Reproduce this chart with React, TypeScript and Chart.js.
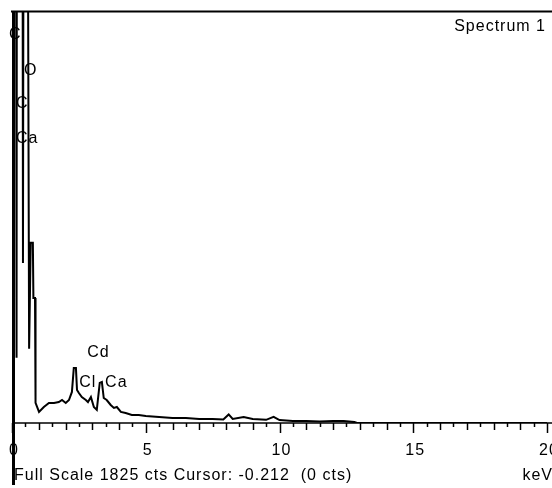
import React, { useEffect, useRef } from "react";
import { Chart, registerables } from "chart.js";

Chart.register(...registerables);

// Spectrum data (energy in keV, counts)
const energyKeV = [
  0.0, 0.02, 0.14, 0.17, 0.19, 0.38, 0.41, 0.45, 0.55, 0.64, 0.7, 0.78, 0.8, 0.86, 0.88,
  1.01, 1.19, 1.38, 1.57, 1.75, 1.87, 2.01, 2.13, 2.24, 2.31, 2.39, 2.43, 2.5, 2.61, 2.76,
  2.84, 2.95, 3.06, 3.17, 3.28, 3.36, 3.43, 3.54, 3.69, 3.81, 3.92, 4.07, 4.25, 4.48, 4.74,
  5.0, 5.5, 6.0, 6.5, 7.0, 7.5, 7.9, 8.1, 8.25, 8.66, 9.0, 9.5, 9.78, 10.0, 10.5, 11.0,
  11.5, 12.0, 12.4, 12.8, 12.9, 20.0,
];
const counts = [
  0, 4000, 4000, 290, 4000, 4000, 710, 4000, 4000, 330, 800, 800, 555, 555, 90,
  49, 71, 89, 89, 93, 102, 89, 102, 138, 244, 244, 147, 133, 115, 102,
  93, 115, 71, 58, 178, 182, 111, 102, 80, 67, 71, 49, 44, 36, 36,
  31, 27, 22, 22, 18, 18, 16, 38, 18, 27, 18, 14, 27, 13, 9, 9,
  7, 9, 9, 4, 0, 0,
];

const fullScale = 1825;
const xMin = 0;
const xMax = 20;
const tickValues = [0, 5, 10, 15, 20];
const tickLabels = ["0", "5", "10", "15", "20"];

// Element labels and their anchors (energy keV, counts)
const peakLabels = ["C", "O", "C", "Ca", "Cd", "Cl", "Ca"];
const peakLabelEnergy = [-0.11, 0.45, 0.15, 0.15, 2.81, 2.51, 3.48];
const peakLabelCounts = [1707, 1547, 1400, 1245, 293, 160, 160];

const titleText = "Spectrum 1";
const footerText = "Full Scale 1825 cts Cursor: -0.212  (0 cts)";
const unitText = "keV";

const FONT = "16px 'Liberation Sans', Arial, sans-serif";

export default function App() {
  const ref = useRef<HTMLCanvasElement | null>(null);

  useEffect(() => {
    document.body.style.margin = "0";
    const canvas = ref.current;
    if (!canvas) return;

    const labelsPlugin = {
      id: "eds-labels",
      beforeDatasetsDraw(chart: any) {
        const ctx = chart.ctx as CanvasRenderingContext2D;
        const xs = chart.scales.x;
        const ys = chart.scales.y;
        ctx.save();
        ctx.font = FONT;
        (ctx as any).letterSpacing = "1px";
        ctx.fillStyle = "#000";
        ctx.textAlign = "left";
        ctx.textBaseline = "alphabetic";
        peakLabels.forEach((t, i) => {
          ctx.fillText(t, xs.getPixelForValue(peakLabelEnergy[i]), ys.getPixelForValue(peakLabelCounts[i]));
        });
        ctx.restore();
      },
      afterDraw(chart: any) {
        const ctx = chart.ctx as CanvasRenderingContext2D;
        const xs = chart.scales.x;
        const area = chart.chartArea;
        const W = chart.width;
        const H = chart.height;
        ctx.save();
        ctx.strokeStyle = "#000";
        // top border
        ctx.lineWidth = 2;
        ctx.beginPath();
        ctx.moveTo(area.left - 1, area.top - 0.5);
        ctx.lineTo(W, area.top - 0.5);
        ctx.stroke();
        // axis line
        ctx.lineWidth = 1.5;
        ctx.beginPath();
        ctx.moveTo(area.left, area.bottom);
        ctx.lineTo(W, area.bottom);
        ctx.stroke();
        // left bar
        ctx.lineWidth = 3;
        ctx.beginPath();
        ctx.moveTo(area.left + 1.5, area.top - 1);
        ctx.lineTo(area.left + 1.5, H - 3);
        ctx.stroke();
        // ticks every 0.5 keV
        ctx.lineWidth = 1.5;
        for (let v = xMin; v <= xMax + 1e-9; v += 0.5) {
          const px = Math.round(xs.getPixelForValue(v)) + 0.5;
          const len = v % 5 === 0 ? 10 : v % 1 === 0 ? 7 : 4;
          ctx.beginPath();
          ctx.moveTo(px, area.bottom);
          ctx.lineTo(px, area.bottom + len);
          ctx.stroke();
        }
        // tick labels
        ctx.font = FONT;
        (ctx as any).letterSpacing = "1px";
        ctx.fillStyle = "#000";
        ctx.textBaseline = "alphabetic";
        ctx.textAlign = "center";
        tickValues.forEach((v, i) => {
          ctx.fillText(tickLabels[i], xs.getPixelForValue(v) + 2, area.bottom + 32);
        });
        // footer
        ctx.textAlign = "left";
        ctx.fillText(footerText, area.left + 2, H - 8);
        ctx.textAlign = "right";
        ctx.fillText(unitText, W + 1, H - 8);
        // title
        ctx.fillText(titleText, W - 6, area.top + 19);
        ctx.restore();
      },
    };

    const chart = new Chart(canvas, {
      type: "line",
      data: {
        datasets: [
          {
            data: energyKeV.map((e, i) => ({ x: e, y: counts[i] })),
            borderColor: "#000",
            borderWidth: 2,
            pointRadius: 0,
            tension: 0,
            fill: false,
          },
        ],
      },
      options: {
        animation: false,
        responsive: false,
        maintainAspectRatio: false,
        devicePixelRatio: 1,
        layout: { padding: { left: 12, top: 12, right: 5, bottom: 65 } },
        plugins: { legend: { display: false }, tooltip: { enabled: false } },
        scales: {
          x: { type: "linear", min: xMin, max: xMax, display: false },
          y: { type: "linear", min: 0, max: fullScale, display: false },
        },
      },
      plugins: [labelsPlugin],
    });

    return () => chart.destroy();
  }, []);

  return (
    <div style={{ width: 552, height: 488, background: "#fff" }}>
      <canvas ref={ref} width={552} height={488} style={{ display: "block" }} />
    </div>
  );
}
